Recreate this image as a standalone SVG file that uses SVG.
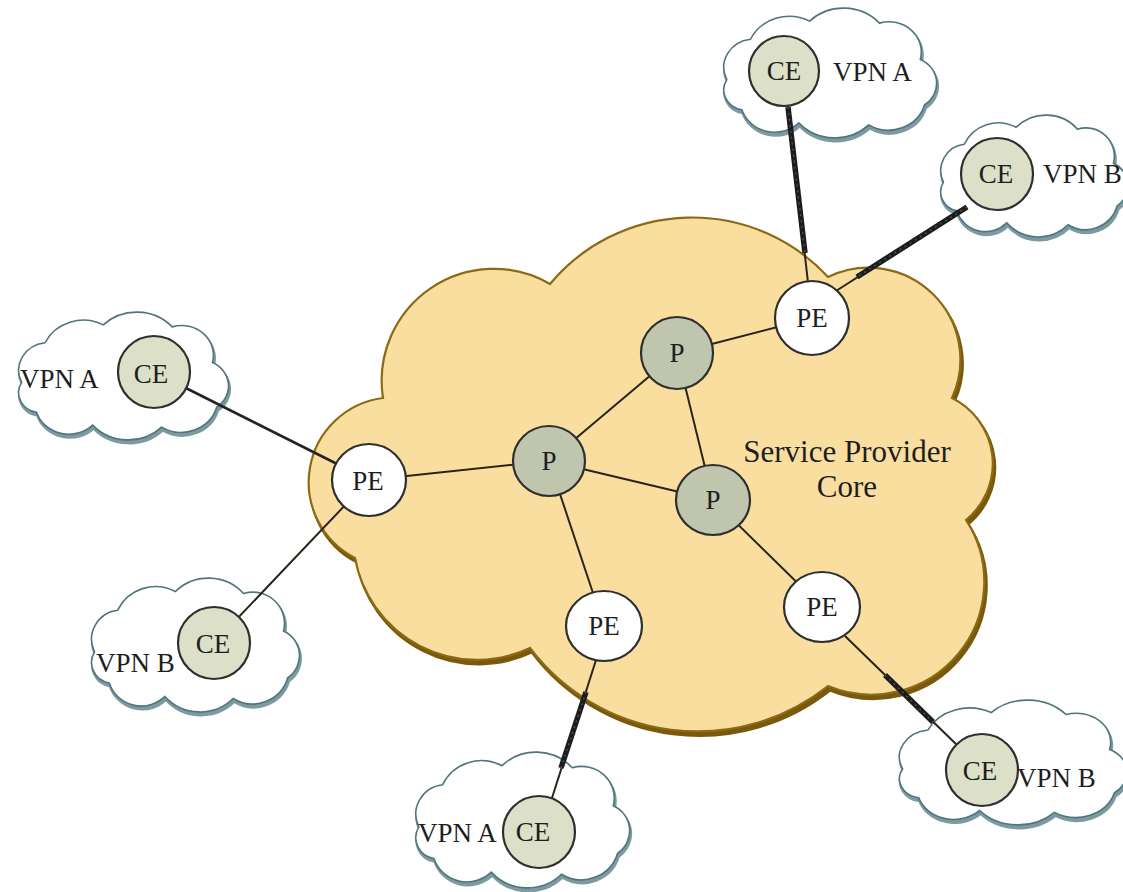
<svg xmlns="http://www.w3.org/2000/svg" xmlns:xlink="http://www.w3.org/1999/xlink" width="1123" height="892" viewBox="0 0 1123 892">
  <defs>
    <style>
      .site { fill: #ffffff; stroke: #4f757e; stroke-width: 1.6; }
      .site-shadow { fill: #7c9aa0; stroke: #7c9aa0; stroke-width: 3; }
      .core { fill: #f9dea0; stroke: #8a6a14; stroke-width: 2.2; }
      .core-shadow { fill: #7a5a0a; stroke: #7a5a0a; stroke-width: 3; }
      .link { stroke: #2a2418; stroke-width: 2; fill: none; }
      .access { stroke: #222222; stroke-width: 2.6; fill: none; }
      .trunk { stroke: #1c1c1c; stroke-width: 5.5; fill: none; }
      .trunk-core { stroke: #5a5a5a; stroke-width: 1.2; stroke-dasharray: 2 4; fill: none; }
      .pe { fill: #ffffff; stroke: #2e2e2e; stroke-width: 2.2; }
      .p { fill: #c0c6ad; stroke: #2e2e2e; stroke-width: 2.2; }
      .ce { fill: #dde0c8; stroke: #2e2e2e; stroke-width: 2.2; }
      text { font-family: "Liberation Serif", "Times New Roman", serif; fill: #1e1e1e; }
      .lbl { font-size: 27px; text-anchor: middle; }
      .vpn { font-size: 27px; }
      .title { font-size: 31px; text-anchor: middle; }
    </style>
    <!-- customer site cloud, drawn in a 200 x 129 box -->
    <path id="sitecloud" vector-effect="non-scaling-stroke" d="M 8 70 A 28 28 0 0 1 30 30 A 40 40 0 0 1 85 12 A 45 45 0 0 1 150 14 A 30 30 0 0 1 188 50 A 26 26 0 0 1 192 95 A 35 35 0 0 1 140 115 A 45 45 0 0 1 75 113 A 32 32 0 0 1 22 100 A 20 20 0 0 1 8 70 Z"/>
    <!-- provider core cloud -->
    <path id="corecloud" d="M 383 398 A 112 112 0 0 1 550 284 A 185 185 0 0 1 828 277 A 92 92 0 0 1 952 398 A 73 73 0 0 1 966 520 A 113 113 0 0 1 828 686 A 210 210 0 0 1 530 648 A 124 124 0 0 1 355 558 A 85 85 0 0 1 383 398 Z"/>
  </defs>

  <!-- customer site clouds -->
  <g id="site-clouds">
    <g id="cloud-top">
      <use xlink:href="#sitecloud" class="site-shadow" transform="translate(716,11) scale(1.075,1.008) translate(3,1)"/>
      <use xlink:href="#sitecloud" class="site" transform="translate(715,8) scale(1.075,1.008) translate(3,1)"/>
    </g>
    <g id="cloud-upper-right">
      <use xlink:href="#sitecloud" class="site-shadow" transform="translate(934,118) scale(0.945,0.946) translate(3,1)"/>
      <use xlink:href="#sitecloud" class="site" transform="translate(933,115) scale(0.945,0.946) translate(3,1)"/>
    </g>
    <g id="cloud-upper-left">
      <use xlink:href="#sitecloud" class="site-shadow" transform="translate(11,315) scale(1.06,0.992) translate(3,1)"/>
      <use xlink:href="#sitecloud" class="site" transform="translate(10,312) scale(1.06,0.992) translate(3,1)"/>
    </g>
    <g id="cloud-lower-left">
      <use xlink:href="#sitecloud" class="site-shadow" transform="translate(84,581) scale(1.05,1.039) translate(3,1)"/>
      <use xlink:href="#sitecloud" class="site" transform="translate(83,578) scale(1.05,1.039) translate(3,1)"/>
    </g>
    <g id="cloud-bottom">
      <use xlink:href="#sitecloud" class="site-shadow" transform="translate(408,755) scale(1.08,1.054) translate(3,1)"/>
      <use xlink:href="#sitecloud" class="site" transform="translate(407,752) scale(1.08,1.054) translate(3,1)"/>
    </g>
    <g id="cloud-lower-right">
      <use xlink:href="#sitecloud" class="site-shadow" transform="translate(891,703) scale(1.15,0.969) translate(3,1)"/>
      <use xlink:href="#sitecloud" class="site" transform="translate(890,700) scale(1.15,0.969) translate(3,1)"/>
    </g>
  </g>

  <!-- service provider core -->
  <g id="core">
    <use xlink:href="#corecloud" class="core-shadow" transform="translate(2,4)"/>
    <use xlink:href="#corecloud" class="core"/>
    <text class="title" x="847" y="462">Service Provider</text>
    <text class="title" x="847" y="497">Core</text>
  </g>

  <!-- links -->
  <g id="connectors">
    <!-- core links -->
    <line class="link" x1="369" y1="480" x2="549" y2="461"/>
    <line class="link" x1="549" y1="461" x2="677" y2="353"/>
    <line class="link" x1="677" y1="353" x2="812" y2="318"/>
    <line class="link" x1="677" y1="353" x2="713" y2="500"/>
    <line class="link" x1="549" y1="461" x2="713" y2="500"/>
    <line class="link" x1="549" y1="461" x2="604" y2="626"/>
    <line class="link" x1="713" y1="500" x2="822" y2="607"/>

    <!-- attachment circuits -->
    <line class="access" x1="154" y1="372" x2="369" y2="480"/>
    <line class="link" x1="369" y1="480" x2="214" y2="643"/>

    <line class="link" x1="786" y1="90" x2="810" y2="300"/>
    <line class="trunk" x1="788" y1="107" x2="805" y2="253"/>
    <line class="trunk-core" x1="788" y1="107" x2="805" y2="253"/>

    <line class="link" x1="967" y1="207" x2="836" y2="291"/>
    <line class="trunk" x1="967" y1="207" x2="857" y2="277"/>
    <line class="trunk-core" x1="967" y1="207" x2="857" y2="277"/>

    <line class="link" x1="596" y1="660" x2="552" y2="798"/>
    <line class="trunk" x1="586" y1="692" x2="561" y2="768"/>
    <line class="trunk-core" x1="586" y1="692" x2="561" y2="768"/>

    <line class="link" x1="845" y1="636" x2="958" y2="746"/>
    <line class="trunk" x1="885" y1="675" x2="933" y2="722"/>
    <line class="trunk-core" x1="885" y1="675" x2="933" y2="722"/>
  </g>

  <!-- provider routers -->
  <g id="p-top"><ellipse class="p" cx="677" cy="353" rx="36" ry="36"/><text class="lbl" x="677" y="362">P</text></g>
  <g id="p-mid"><ellipse class="p" cx="549" cy="461" rx="36" ry="35"/><text class="lbl" x="549" y="470">P</text></g>
  <g id="p-right"><ellipse class="p" cx="713" cy="500" rx="37" ry="35"/><text class="lbl" x="713" y="509">P</text></g>

  <!-- provider edge routers -->
  <g id="pe-upper-right"><ellipse class="pe" cx="812" cy="318" rx="37" ry="37"/><text class="lbl" x="812" y="327">PE</text></g>
  <g id="pe-left"><ellipse class="pe" cx="369" cy="480" rx="37" ry="36"/><text class="lbl" x="368" y="490">PE</text></g>
  <g id="pe-bottom"><ellipse class="pe" cx="604" cy="626" rx="38" ry="35"/><text class="lbl" x="604" y="635">PE</text></g>
  <g id="pe-lower-right"><ellipse class="pe" cx="822" cy="607" rx="38" ry="35"/><text class="lbl" x="822" y="616">PE</text></g>

  <!-- customer edge routers -->
  <g id="ce-top"><circle class="ce" cx="784" cy="71" r="35"/><text class="lbl" x="784" y="80">CE</text><text class="vpn" x="833" y="81">VPN A</text></g>
  <g id="ce-upper-right"><circle class="ce" cx="997" cy="174" r="36"/><text class="lbl" x="996" y="183">CE</text><text class="vpn" x="1043" y="183">VPN B</text></g>
  <g id="ce-upper-left"><circle class="ce" cx="154" cy="372" r="36"/><text class="lbl" x="151" y="383">CE</text><text class="vpn" x="20" y="388">VPN A</text></g>
  <g id="ce-lower-left"><circle class="ce" cx="214" cy="643" r="36"/><text class="lbl" x="213" y="653">CE</text><text class="vpn" x="96" y="672">VPN B</text></g>
  <g id="ce-bottom"><circle class="ce" cx="539" cy="832" r="36"/><text class="lbl" x="533" y="841">CE</text><text class="vpn" x="418" y="842">VPN A</text></g>
  <g id="ce-lower-right"><circle class="ce" cx="982" cy="770" r="36"/><text class="lbl" x="980" y="780">CE</text><text class="vpn" x="1017" y="787">VPN B</text></g>
</svg>
